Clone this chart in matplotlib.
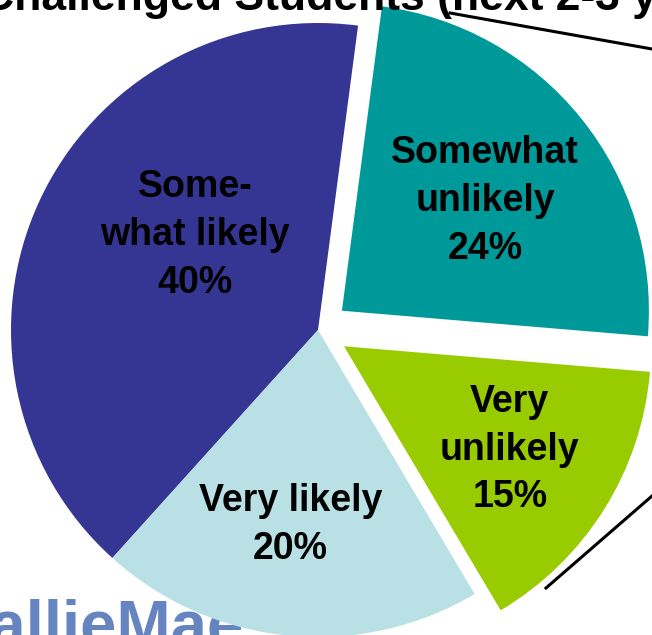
import matplotlib
matplotlib.use("Agg")
import matplotlib.pyplot as plt
from matplotlib.lines import Line2D

# canvas size in pixels
W, H = 652, 635

##### data #####
labels = ["Some-\nwhat likely", "Very likely", "Very\nunlikely", "Somewhat\nunlikely"]
shares = [40, 20, 15, 24]
colours = ["#353594", "#B9E0E4", "#99CC00", "#009999"]
explode = [0, 0, 0.1, 0.1]
title = "Challenged Students (next 2-3 yrs)"
logo = "SallieMae"

# label centres, in pie units (radius = 1)
label_xy = [(-0.40, 0.31), (-0.09, -0.635), (0.625, -0.39), (0.545, 0.42)]

plt.rcParams['font.family'] = ['Liberation Sans', 'DejaVu Sans']


def px(x, y):
    """pixel position (from top left) -> figure fraction"""
    return x / W, 1 - y / H


fig = plt.figure(figsize=(W / 100, H / 100), dpi=100)

# pie centre and radius, pixels
cx, cy, r = 318, 330, 307
ax = fig.add_axes([0, 0, 1, 1])
ax.pie(shares, colors=colours, explode=explode, startangle=82.5,
       counterclock=True, radius=1, wedgeprops=dict(linewidth=0))
ax.set_aspect('auto')
ax.set_xlim(-cx / r, (W - cx) / r)
ax.set_ylim(-(H - cy) / r, cy / r)
ax.axis('off')

for lab, v, (x, y) in zip(labels, shares, label_xy):
    ax.text(x, y, f"{lab}\n{v}%", ha='center', va='center', fontsize=27,
            fontweight='bold', linespacing=1.42, color='black')

# title (mostly cut off at the top)
fig.text(*px(-18, 10), title, ha='left', va='baseline', fontsize=32,
         fontweight='bold', color='black')

# logo, cut off at the bottom, behind the pie
fig.text(*px(-54, 645), logo, ha='left', va='baseline', fontsize=47,
         fontweight='bold', color='#6685C0', zorder=-1)

# connector lines going off to the right
for (x0, y0), (x1, y1) in [((450, 13), (652, 49)), ((546, 588), (652, 496))]:
    k = (660 - x0) / (x1 - x0)
    x2, y2 = x0 + k * (x1 - x0), y0 + k * (y1 - y0)
    fig.add_artist(Line2D([px(x0, y0)[0], px(x2, y2)[0]],
                          [px(x0, y0)[1], px(x2, y2)[1]],
                          color='black', linewidth=2.2))

fig.savefig("out.png", dpi=100)
